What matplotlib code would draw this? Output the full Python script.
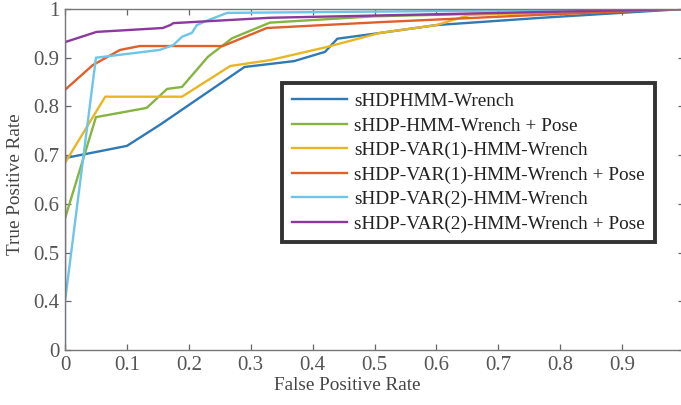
import numpy as np
import matplotlib
matplotlib.use("Agg")
import matplotlib.pyplot as plt

labels = ["sHDPHMM-Wrench", "sHDP-HMM-Wrench + Pose", "sHDP-VAR(1)-HMM-Wrench",
          "sHDP-VAR(1)-HMM-Wrench + Pose", "sHDP-VAR(2)-HMM-Wrench",
          "sHDP-VAR(2)-HMM-Wrench + Pose"]
colors = ["#2f79b5", "#86b440", "#e9b623", "#e0602a", "#6cc6e8", "#8a3a9c"]

blue_x = [0.0, 0.1, 0.153, 0.29, 0.37, 0.42, 0.44, 0.51, 0.60, 0.77, 1.0]
blue_y = [0.694, 0.719, 0.762, 0.881, 0.893, 0.912, 0.939, 0.951, 0.967, 0.982, 1.0]
green_x = [0.0, 0.05, 0.132, 0.165, 0.189, 0.231, 0.27, 0.331, 0.5, 1.0]
green_y = [0.57, 0.778, 0.797, 0.836, 0.84, 0.902, 0.94, 0.972, 0.985, 1.0]
yellow_x = [0.0, 0.065, 0.189, 0.267, 0.331, 0.423, 0.509, 0.60, 0.654, 1.0]
yellow_y = [0.684, 0.82, 0.82, 0.883, 0.895, 0.922, 0.951, 0.967, 0.988, 1.0]
orange_x = [0.0, 0.045, 0.089, 0.121, 0.255, 0.326, 0.509, 0.767, 1.0]
orange_y = [0.834, 0.885, 0.916, 0.924, 0.924, 0.961, 0.973, 0.988, 1.0]
cyan_x = [0.0, 0.0, 0.05, 0.153, 0.175, 0.189, 0.205, 0.213, 0.229, 0.262, 1.0]
cyan_y = [0.0, 0.40, 0.90, 0.916, 0.926, 0.943, 0.951, 0.967, 0.976, 0.992, 1.0]
purple_x = [0.0, 0.0, 0.051, 0.158, 0.17, 0.175, 0.331, 1.0]
purple_y = [0.41, 0.932, 0.953, 0.961, 0.967, 0.971, 0.982, 1.0]

series = [(blue_x, blue_y), (green_x, green_y), (yellow_x, yellow_y),
          (orange_x, orange_y), (cyan_x, cyan_y), (purple_x, purple_y)]

yticks = [0, 0.4, 0.5, 0.6, 0.7, 0.8, 0.9, 1]
ytick_labels = ["0", "0.4", "0.5", "0.6", "0.7", "0.8", "0.9", "1"]
xticks = [0, 0.1, 0.2, 0.3, 0.4, 0.5, 0.6, 0.7, 0.8, 0.9, 1]
xtick_labels = ["0", "0.1", "0.2", "0.3", "0.4", "0.5", "0.6", "0.7", "0.8", "0.9", ""]


def fwd(y):
    y = np.asarray(y, dtype=float)
    return np.where(y >= 0.4, y, 0.3 + 0.25 * y)


def inv(v):
    v = np.asarray(v, dtype=float)
    return np.where(v >= 0.4, v, (v - 0.3) / 0.25)


plt.rcParams['font.family'] = ['Liberation Serif', 'DejaVu Serif']

fig = plt.figure(figsize=(6.81, 4.05), dpi=100)
ax = fig.add_axes([65 / 681, 55 / 405, 619 / 681, 341 / 405])
ax.set_yscale('function', functions=(fwd, inv))

for (xs, ys), c, lab in zip(series, colors, labels):
    ax.plot(xs, ys, color=c, lw=1.7, label=lab, solid_joinstyle='round')

ax.set_xlim(0, 1)
ax.set_ylim(0, 1)
ax.set_xticks(xticks)
ax.set_xticklabels(xtick_labels)
ax.set_yticks(yticks)
ax.set_yticklabels(ytick_labels)
ax.yaxis.set_minor_locator(matplotlib.ticker.NullLocator())
ax.tick_params(direction='in', length=4, width=0.9, colors='#666666',
               labelcolor='#555555', labelsize=15, top=True, right=True, pad=4)
for s in ax.spines.values():
    s.set_color('#777777')
    s.set_linewidth(1.0)

ax.set_xlabel("False Positive Rate", fontsize=13.8, color='#444444')
ax.xaxis.set_label_coords(0.456, -0.08)
ax.set_ylabel("True Positive Rate", fontsize=13.8, color='#444444')
ax.yaxis.set_label_coords(-0.067, 0.485)

leg = ax.legend(loc='upper left', bbox_to_anchor=(0.351, 0.783), fontsize=13.9,
                frameon=True, fancybox=False, handlelength=2.85, handletextpad=0.38,
                labelspacing=0.36, borderpad=0.5, borderaxespad=0)
leg.get_frame().set_edgecolor('black')
leg.get_frame().set_linewidth(2.8)
for t in leg.get_texts():
    t.set_color('#222222')

fig.savefig("out.png", dpi=100)
